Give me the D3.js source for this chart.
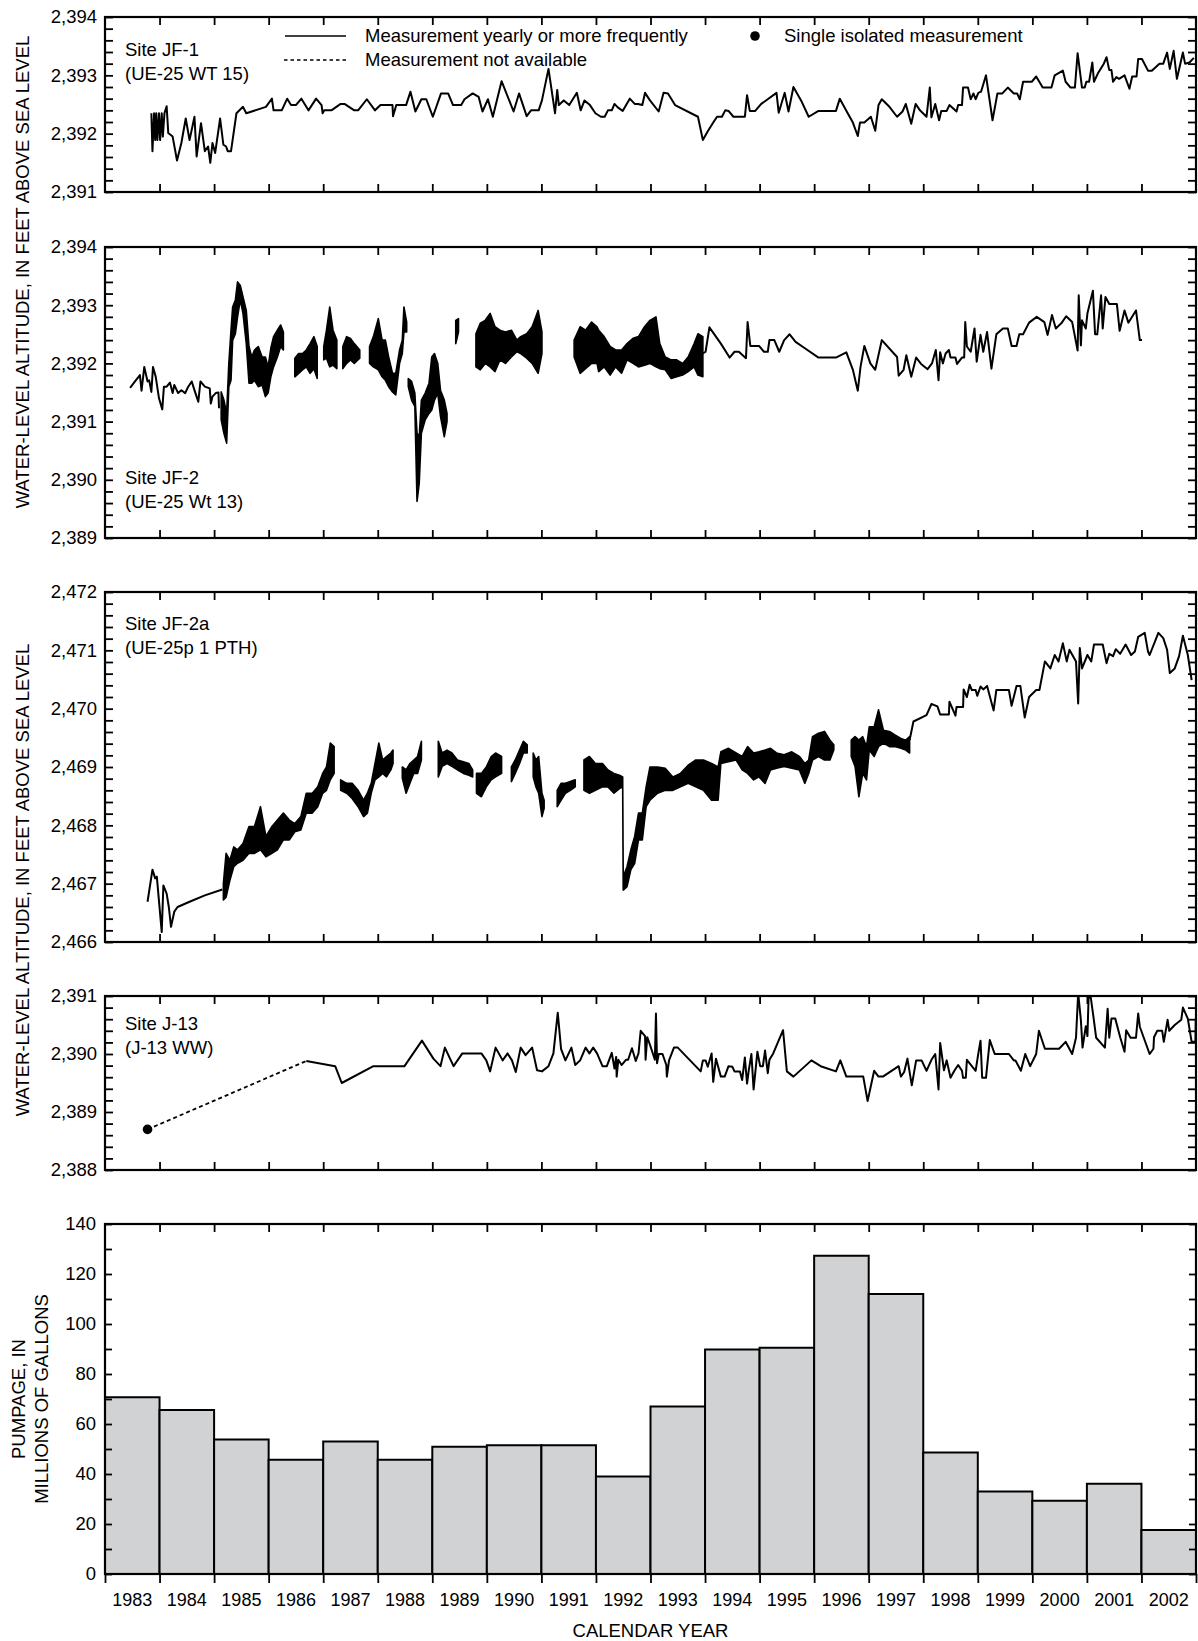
<!DOCTYPE html>
<html><head><meta charset="utf-8">
<script src="https://cdn.jsdelivr.net/npm/d3@7"></script>
<style>
body{margin:0;background:#fff;}
svg{display:block;font-family:"Liberation Sans",Arial,Helvetica,sans-serif;}
</style></head><body>
<svg id="chart" width="1198" height="1641"></svg>
<script>
// ---------------- DATA ----------------
const yearLabels = [1983,1984,1985,1986,1987,1988,1989,1990,1991,1992,1993,1994,1995,1996,1997,1998,1999,2000,2001,2002];
const yearBoundaries = [1983,1984,1985,1986,1987,1988,1989,1990,1991,1992,1993,1994,1995,1996,1997,1998,1999,2000,2001,2002,2003];
const pumpage = [70.7,65.6,53.8,45.7,53.0,45.7,50.9,51.5,51.5,39.0,67.0,89.8,90.5,127.3,112.0,48.6,33.0,29.3,36.1,17.6];
const pumpageTicks = [0,20,40,60,80,100,120,140];

const jf1Ticks = [2391,2392,2393,2394];
const jf2Ticks = [2389,2390,2391,2392,2393,2394];
const jf2aTicks = [2466,2467,2468,2469,2470,2471,2472];
const j13Ticks = [2388,2389,2390,2391];

// Site JF-1 (UE-25 WT 15): [year, altitude]
const jf1 = [[1983.85,2392.35],[1983.87,2391.70],[1983.90,2392.35],[1983.92,2391.89],[1983.94,2392.35],[1983.96,2391.89],[1983.99,2392.35],[1984.01,2391.89],[1984.04,2392.35],[1984.06,2391.95],[1984.09,2392.35],[1984.13,2392.47],[1984.16,2392.01],[1984.24,2391.95],[1984.32,2391.54],[1984.40,2391.84],[1984.48,2392.26],[1984.55,2391.89],[1984.64,2392.29],[1984.68,2391.61],[1984.76,2392.18],[1984.83,2391.70],[1984.89,2391.78],[1984.93,2391.50],[1984.97,2391.84],[1985.02,2391.67],[1985.11,2392.26],[1985.17,2391.81],[1985.22,2391.78],[1985.25,2391.70],[1985.31,2391.70],[1985.41,2392.35],[1985.53,2392.46],[1985.59,2392.35],[1985.95,2392.46],[1986.06,2392.60],[1986.09,2392.40],[1986.24,2392.40],[1986.34,2392.60],[1986.41,2392.49],[1986.50,2392.49],[1986.60,2392.60],[1986.73,2392.40],[1986.87,2392.60],[1986.97,2392.49],[1986.99,2392.35],[1987.02,2392.40],[1987.15,2392.40],[1987.32,2392.51],[1987.39,2392.51],[1987.57,2392.40],[1987.64,2392.40],[1987.80,2392.59],[1987.95,2392.40],[1988.05,2392.49],[1988.27,2392.49],[1988.28,2392.30],[1988.34,2392.49],[1988.52,2392.49],[1988.60,2392.72],[1988.69,2392.38],[1988.80,2392.59],[1988.89,2392.59],[1989.01,2392.29],[1989.16,2392.69],[1989.29,2392.69],[1989.38,2392.49],[1989.53,2392.49],[1989.59,2392.59],[1989.74,2392.69],[1989.85,2392.63],[1989.92,2392.38],[1990.02,2392.59],[1990.11,2392.29],[1990.27,2392.90],[1990.41,2392.57],[1990.49,2392.38],[1990.59,2392.69],[1990.73,2392.30],[1990.81,2392.40],[1990.95,2392.40],[1991.01,2392.57],[1991.13,2393.11],[1991.25,2392.35],[1991.29,2392.75],[1991.32,2392.49],[1991.41,2392.57],[1991.51,2392.49],[1991.65,2392.70],[1991.72,2392.40],[1991.79,2392.57],[1991.89,2392.49],[1991.99,2392.35],[1992.09,2392.29],[1992.16,2392.29],[1992.22,2392.40],[1992.29,2392.40],[1992.34,2392.51],[1992.40,2392.45],[1992.49,2392.39],[1992.62,2392.60],[1992.71,2392.51],[1992.77,2392.51],[1992.85,2392.49],[1992.90,2392.70],[1992.99,2392.57],[1993.15,2392.38],[1993.24,2392.70],[1993.32,2392.69],[1993.38,2392.60],[1993.45,2392.49],[1993.87,2392.29],[1993.96,2391.89],[1994.05,2392.04],[1994.15,2392.19],[1994.22,2392.29],[1994.31,2392.29],[1994.37,2392.40],[1994.43,2392.39],[1994.52,2392.29],[1994.73,2392.29],[1994.77,2392.66],[1994.82,2392.39],[1994.92,2392.39],[1995.03,2392.51],[1995.31,2392.70],[1995.35,2392.36],[1995.46,2392.70],[1995.53,2392.38],[1995.62,2392.80],[1995.76,2392.57],[1995.90,2392.29],[1996.08,2392.39],[1996.40,2392.39],[1996.47,2392.60],[1996.61,2392.36],[1996.71,2392.19],[1996.80,2391.96],[1996.84,2392.19],[1996.92,2392.19],[1997.04,2392.29],[1997.12,2392.05],[1997.18,2392.49],[1997.24,2392.59],[1997.38,2392.46],[1997.52,2392.29],[1997.62,2392.38],[1997.68,2392.51],[1997.78,2392.17],[1997.86,2392.51],[1997.94,2392.40],[1998.06,2392.29],[1998.12,2392.79],[1998.15,2392.28],[1998.22,2392.51],[1998.29,2392.23],[1998.33,2392.39],[1998.43,2392.39],[1998.48,2392.49],[1998.61,2392.38],[1998.64,2392.49],[1998.71,2392.49],[1998.73,2392.79],[1998.82,2392.79],[1998.87,2392.59],[1998.92,2392.69],[1998.96,2392.59],[1999.01,2392.70],[1999.06,2392.72],[1999.15,2393.00],[1999.27,2392.23],[1999.36,2392.69],[1999.45,2392.69],[1999.55,2392.79],[1999.66,2392.69],[1999.72,2392.69],[1999.77,2392.59],[1999.83,2392.89],[1999.99,2392.89],[2000.07,2392.98],[2000.19,2392.79],[2000.35,2392.79],[2000.41,2393.00],[2000.56,2393.08],[2000.61,2392.89],[2000.70,2392.79],[2000.78,2392.79],[2000.83,2393.38],[2000.91,2392.79],[2000.96,2392.79],[2000.99,2392.89],[2001.04,2392.89],[2001.10,2393.22],[2001.13,2392.89],[2001.20,2393.03],[2001.31,2393.20],[2001.36,2393.31],[2001.41,2393.09],[2001.45,2393.09],[2001.48,2392.89],[2001.54,2392.97],[2001.59,2392.94],[2001.69,2393.00],[2001.78,2392.77],[2001.83,2392.98],[2001.91,2392.98],[2001.94,2393.28],[2002.01,2393.28],[2002.12,2393.08],[2002.19,2393.08],[2002.33,2393.20],[2002.40,2393.20],[2002.47,2393.39],[2002.52,2393.11],[2002.59,2393.42],[2002.65,2392.94],[2002.76,2393.39],[2002.80,2393.20],[2002.88,2393.22],[2002.96,2393.30]];

// Site JF-2 (UE-25 Wt 13): sparse parts [year, altitude]
const jf2Early = [[1983.46,2391.58],[1983.55,2391.69],[1983.64,2391.80],[1983.67,2391.53],[1983.72,2391.94],[1983.78,2391.69],[1983.81,2391.71],[1983.85,2391.51],[1983.88,2391.94],[1983.93,2391.77],[1983.99,2391.40],[1984.05,2391.21],[1984.08,2391.60],[1984.13,2391.60],[1984.19,2391.67],[1984.24,2391.49],[1984.27,2391.63],[1984.34,2391.49],[1984.40,2391.54],[1984.47,2391.49],[1984.52,2391.59],[1984.59,2391.69],[1984.64,2391.54],[1984.71,2391.34],[1984.75,2391.69],[1984.83,2391.60],[1984.92,2391.57],[1984.94,2391.31],[1984.97,2391.43],[1985.03,2391.49],[1985.08,2391.50],[1985.09,2391.23]];
const jf2Late = [[1993.96,2392.17],[1994.01,2392.20],[1994.08,2392.62],[1994.29,2392.34],[1994.45,2392.10],[1994.54,2392.20],[1994.62,2392.20],[1994.75,2392.09],[1994.78,2392.71],[1994.83,2392.30],[1994.99,2392.30],[1995.08,2392.20],[1995.15,2392.20],[1995.18,2392.40],[1995.27,2392.40],[1995.36,2392.20],[1995.45,2392.40],[1995.55,2392.50],[1995.66,2392.37],[1995.83,2392.26],[1996.08,2392.10],[1996.40,2392.10],[1996.59,2392.19],[1996.71,2391.89],[1996.80,2391.53],[1996.85,2391.94],[1996.92,2392.30],[1997.03,2392.00],[1997.12,2391.89],[1997.24,2392.40],[1997.52,2392.11],[1997.55,2391.79],[1997.64,2391.89],[1997.69,2392.14],[1997.78,2391.77],[1997.87,2392.10],[1997.96,2391.99],[1998.08,2391.90],[1998.16,2392.00],[1998.23,2392.23],[1998.28,2391.71],[1998.31,2392.19],[1998.36,2392.00],[1998.41,2392.17],[1998.47,2392.23],[1998.50,2392.10],[1998.59,2392.10],[1998.62,2391.99],[1998.71,2392.10],[1998.75,2392.10],[1998.77,2392.71],[1998.80,2392.29],[1998.87,2392.20],[1998.94,2392.60],[1998.98,2392.03],[1999.05,2392.49],[1999.10,2392.20],[1999.17,2392.54],[1999.25,2391.91],[1999.34,2392.50],[1999.46,2392.60],[1999.55,2392.60],[1999.62,2392.30],[1999.71,2392.30],[1999.76,2392.50],[1999.83,2392.50],[1999.94,2392.70],[2000.08,2392.80],[2000.22,2392.71],[2000.28,2392.49],[2000.36,2392.83],[2000.43,2392.60],[2000.54,2392.70],[2000.62,2392.81],[2000.73,2392.71],[2000.83,2392.22],[2000.85,2393.17],[2000.89,2392.31],[2000.91,2392.74],[2000.98,2392.60],[2001.01,2392.86],[2001.11,2393.25],[2001.15,2392.50],[2001.19,2392.50],[2001.26,2393.17],[2001.29,2392.60],[2001.34,2393.14],[2001.41,2393.02],[2001.55,2393.02],[2001.60,2392.56],[2001.69,2392.91],[2001.76,2392.70],[2001.90,2392.91],[2001.97,2392.40],[2002.01,2392.40]];
// Site JF-2 frequent-record stretches: [year, low, high]
const jf2Dense = [
 [[1985.13,2391.03,2391.51],[1985.18,2390.80,2391.37],[1985.23,2390.63,2391.14],[1985.27,2391.60,2392.00],[1985.31,2391.71,2392.57],[1985.34,2392.40,2392.97],[1985.39,2392.51,2393.09],[1985.43,2392.80,2393.40],[1985.48,2393.09,2393.34],[1985.53,2392.86,2393.14],[1985.59,2392.34,2392.91],[1985.64,2391.66,2392.29],[1985.69,2391.66,2392.11],[1985.74,2391.71,2392.23],[1985.81,2391.60,2392.29],[1985.88,2391.63,2392.11],[1985.94,2391.43,2392.11],[1985.99,2391.49,2391.94],[1986.04,2391.77,2392.26],[1986.09,2391.94,2392.46],[1986.16,2392.11,2392.57],[1986.22,2392.29,2392.66],[1986.27,2392.23,2392.54]],
 [[1986.48,2391.77,2392.09],[1986.55,2391.83,2392.17],[1986.62,2391.89,2392.17],[1986.69,2391.94,2392.23],[1986.76,2391.83,2392.34],[1986.83,2391.91,2392.46],[1986.89,2391.74,2392.29]],
 [[1987.01,2392.06,2392.29],[1987.06,2392.09,2392.57],[1987.12,2391.94,2392.97],[1987.18,2391.97,2392.57],[1987.25,2391.91,2392.40]],
 [[1987.36,2391.91,2392.29],[1987.43,2392.00,2392.46],[1987.50,2392.06,2392.43],[1987.57,2392.00,2392.34],[1987.67,2392.09,2392.23]],
 [[1987.85,2392.00,2392.29],[1987.92,2391.94,2392.46],[1988.01,2391.89,2392.77],[1988.08,2391.77,2392.40],[1988.14,2391.71,2392.40],[1988.20,2391.60,2392.11],[1988.27,2391.51,2391.83],[1988.33,2391.46,2391.83],[1988.40,2392.00,2392.23],[1988.45,2392.17,2392.40],[1988.48,2392.54,2392.97],[1988.53,2392.54,2392.71]],
 [[1988.56,2391.60,2391.74],[1988.62,2391.37,2391.69],[1988.68,2391.26,2391.49],[1988.72,2389.63,2390.80],[1988.76,2389.94,2390.74],[1988.80,2390.80,2391.37],[1988.87,2391.03,2391.49],[1988.94,2391.14,2391.66],[1988.99,2391.20,2392.11],[1989.04,2391.37,2392.17],[1989.10,2391.49,2392.00],[1989.15,2391.09,2391.54],[1989.22,2390.74,2391.37],[1989.27,2391.00,2391.14]],
 [[1989.43,2392.34,2392.74],[1989.48,2392.54,2392.77]],
 [[1989.80,2391.94,2392.51],[1989.88,2391.89,2392.69],[1989.97,2392.00,2392.74],[1990.06,2391.94,2392.86],[1990.15,2391.86,2392.63],[1990.24,2392.06,2392.57],[1990.34,2392.00,2392.54],[1990.45,2392.11,2392.57],[1990.55,2392.20,2392.40],[1990.62,2392.17,2392.46],[1990.73,2392.09,2392.51],[1990.83,2392.00,2392.63],[1990.94,2391.83,2392.91],[1991.01,2392.17,2392.54]],
 [[1991.60,2392.11,2392.40],[1991.71,2391.83,2392.63],[1991.81,2391.91,2392.57],[1991.92,2392.00,2392.71],[1992.02,2392.00,2392.63],[1992.05,2391.86,2392.57],[1992.15,2391.94,2392.46],[1992.26,2391.80,2392.29],[1992.36,2391.94,2392.23],[1992.47,2391.83,2392.23],[1992.57,2392.06,2392.34],[1992.68,2392.00,2392.43],[1992.78,2391.94,2392.46],[1992.89,2391.97,2392.63],[1992.99,2392.00,2392.74],[1993.10,2391.94,2392.80],[1993.17,2391.91,2392.34],[1993.27,2391.89,2392.11],[1993.38,2391.74,2392.06],[1993.48,2391.77,2392.06],[1993.59,2391.80,2392.00],[1993.69,2391.86,2392.11],[1993.80,2391.94,2392.34],[1993.87,2391.80,2392.51],[1993.96,2391.77,2392.46]]
];

// Site JF-2a (UE-25p 1 PTH)
const jf2aEarly = [[1983.78,2466.69],[1983.87,2467.24],[1983.92,2467.09],[1983.95,2467.12],[1984.04,2466.17],[1984.07,2466.97],[1984.13,2466.83],[1984.17,2466.60],[1984.21,2466.26],[1984.27,2466.52],[1984.33,2466.60],[1984.55,2466.69],[1984.83,2466.80],[1985.15,2466.90]];
const jf2aLate = [[1997.75,2469.46],[1997.82,2469.78],[1998.06,2469.89],[1998.15,2470.08],[1998.26,2470.04],[1998.31,2469.90],[1998.47,2469.90],[1998.48,2470.12],[1998.59,2469.88],[1998.61,2470.03],[1998.73,2470.03],[1998.74,2470.33],[1998.80,2470.20],[1998.85,2470.41],[1998.89,2470.32],[1998.96,2470.32],[1998.99,2470.22],[1999.05,2470.38],[1999.10,2470.33],[1999.17,2470.39],[1999.29,2469.97],[1999.34,2470.32],[1999.57,2470.32],[1999.62,2470.05],[1999.71,2470.39],[1999.78,2470.39],[1999.86,2469.85],[1999.94,2470.20],[2000.07,2470.32],[2000.13,2470.32],[2000.23,2470.81],[2000.33,2470.69],[2000.41,2470.92],[2000.48,2470.81],[2000.56,2471.12],[2000.63,2470.81],[2000.68,2471.01],[2000.80,2470.81],[2000.84,2470.09],[2000.87,2471.04],[2000.91,2470.69],[2001.01,2470.92],[2001.08,2470.81],[2001.13,2471.10],[2001.20,2471.10],[2001.29,2471.10],[2001.36,2470.78],[2001.41,2470.94],[2001.48,2470.90],[2001.53,2471.02],[2001.61,2470.94],[2001.71,2471.10],[2001.81,2470.92],[2001.88,2470.98],[2001.94,2471.23],[2002.06,2471.30],[2002.12,2470.98],[2002.15,2470.92],[2002.31,2471.30],[2002.40,2471.21],[2002.47,2471.01],[2002.52,2470.61],[2002.61,2470.69],[2002.69,2470.90],[2002.76,2471.25],[2002.85,2470.92],[2002.92,2470.49]];
const jf2aDense = [
 [[1985.17,2466.72,2467.00],[1985.22,2466.77,2467.52],[1985.29,2467.06,2467.40],[1985.36,2467.29,2467.63],[1985.43,2467.35,2467.58],[1985.53,2467.40,2467.69],[1985.64,2467.52,2467.98],[1985.74,2467.52,2467.98],[1985.85,2467.58,2468.32],[1985.95,2467.46,2467.81],[1986.06,2467.52,2467.98],[1986.16,2467.58,2468.09],[1986.27,2467.75,2468.21],[1986.38,2467.75,2468.09],[1986.48,2467.89,2468.03],[1986.59,2467.92,2468.15],[1986.69,2468.21,2468.55],[1986.80,2468.21,2468.55],[1986.90,2468.32,2468.66],[1986.99,2468.55,2468.89],[1987.06,2468.60,2469.00],[1987.13,2468.78,2469.41],[1987.20,2468.89,2469.35]],
 [[1987.32,2468.60,2468.78],[1987.43,2468.55,2468.72],[1987.53,2468.46,2468.72],[1987.64,2468.32,2468.60],[1987.74,2468.15,2468.43],[1987.81,2468.21,2468.55],[1987.88,2468.55,2468.72],[1987.95,2468.78,2469.06],[1988.02,2468.83,2469.41],[1988.09,2468.89,2469.12],[1988.16,2468.83,2469.18],[1988.24,2468.95,2469.24],[1988.28,2469.06,2469.29]],
 [[1988.45,2468.81,2469.00],[1988.52,2468.55,2468.95],[1988.59,2468.72,2469.06],[1988.66,2468.89,2469.12],[1988.73,2468.89,2469.18],[1988.80,2469.12,2469.44]],
 [[1989.11,2468.83,2469.44],[1989.18,2469.01,2469.24],[1989.27,2469.06,2469.29],[1989.36,2469.01,2469.24],[1989.46,2468.95,2469.12],[1989.57,2468.89,2469.09],[1989.67,2468.86,2469.06],[1989.74,2468.83,2468.95]],
 [[1989.81,2468.55,2468.89],[1989.90,2468.49,2468.89],[1989.99,2468.66,2469.00],[1990.08,2468.78,2469.18],[1990.16,2468.83,2469.24],[1990.27,2468.89,2469.18]],
 [[1990.45,2468.75,2469.00],[1990.52,2468.89,2469.12],[1990.60,2469.06,2469.29],[1990.67,2469.24,2469.44],[1990.74,2469.24,2469.38]],
 [[1990.85,2468.83,2469.24],[1990.90,2468.66,2469.12],[1990.95,2468.55,2469.18],[1991.01,2468.15,2468.55],[1991.05,2468.29,2468.43]],
 [[1991.29,2468.32,2468.60],[1991.36,2468.43,2468.72],[1991.44,2468.55,2468.72],[1991.53,2468.60,2468.75],[1991.62,2468.66,2468.78]],
 [[1991.78,2468.60,2469.12],[1991.88,2468.55,2469.18],[1991.99,2468.60,2469.06],[1992.12,2468.66,2469.06],[1992.22,2468.66,2468.95],[1992.33,2468.55,2468.89],[1992.43,2468.63,2468.86],[1992.49,2468.66,2468.83],[1992.50,2466.89,2467.12],[1992.57,2466.95,2467.29],[1992.64,2467.24,2467.58],[1992.71,2467.35,2467.81],[1992.78,2467.75,2468.21],[1992.85,2467.75,2468.21],[1992.92,2468.32,2468.66],[1992.99,2468.43,2469.00],[1993.13,2468.55,2469.00],[1993.27,2468.60,2468.98],[1993.41,2468.60,2468.83],[1993.55,2468.66,2468.89],[1993.69,2468.72,2469.03],[1993.83,2468.66,2469.12],[1993.97,2468.60,2469.12],[1994.12,2468.43,2469.06],[1994.24,2468.43,2469.00],[1994.29,2469.06,2469.26],[1994.43,2469.09,2469.32],[1994.57,2469.12,2469.24],[1994.68,2468.95,2469.18],[1994.78,2468.89,2469.35],[1994.89,2468.78,2469.24],[1994.99,2468.83,2469.26],[1995.10,2468.72,2469.29],[1995.20,2468.95,2469.32],[1995.31,2468.98,2469.24],[1995.45,2469.01,2469.21],[1995.59,2468.98,2469.26],[1995.73,2468.95,2469.18],[1995.83,2468.72,2469.06],[1995.90,2468.89,2469.12],[1995.97,2469.12,2469.52],[1996.08,2469.18,2469.58],[1996.19,2469.12,2469.61],[1996.29,2469.12,2469.46],[1996.36,2469.29,2469.38]],
 [[1996.68,2469.18,2469.46],[1996.75,2469.01,2469.52],[1996.82,2468.49,2469.46],[1996.89,2468.89,2469.52],[1996.96,2468.78,2469.35],[1997.01,2469.29,2469.69],[1997.10,2469.18,2469.69],[1997.18,2469.35,2469.98],[1997.27,2469.41,2469.63],[1997.38,2469.35,2469.61],[1997.48,2469.35,2469.55],[1997.59,2469.32,2469.49],[1997.68,2469.29,2469.46],[1997.75,2469.24,2469.52]]
];

// Site J-13 (J-13 WW)
const j13Single = [1983.78, 2388.70];
const j13 = [[1986.69,2389.88],[1987.22,2389.79],[1987.34,2389.50],[1987.92,2389.79],[1988.49,2389.79],[1988.81,2390.23],[1989.02,2389.92],[1989.15,2389.79],[1989.23,2390.11],[1989.39,2389.79],[1989.55,2390.01],[1989.90,2390.01],[1989.99,2389.89],[1990.06,2389.70],[1990.16,2390.11],[1990.29,2389.89],[1990.38,2390.01],[1990.46,2389.89],[1990.53,2389.69],[1990.62,2390.11],[1990.71,2389.98],[1990.83,2390.11],[1990.92,2389.72],[1991.01,2389.70],[1991.13,2389.79],[1991.22,2390.01],[1991.30,2390.71],[1991.36,2390.09],[1991.44,2389.89],[1991.55,2390.11],[1991.62,2389.81],[1991.71,2389.89],[1991.81,2390.11],[1991.88,2390.01],[1991.95,2390.11],[1992.02,2390.01],[1992.12,2389.79],[1992.20,2389.79],[1992.29,2390.02],[1992.34,2389.75],[1992.37,2389.95],[1992.38,2389.61],[1992.41,2389.90],[1992.47,2389.81],[1992.55,2389.90],[1992.59,2389.90],[1992.66,2390.10],[1992.73,2389.88],[1992.78,2390.01],[1992.82,2390.40],[1992.90,2390.31],[1992.91,2389.90],[1992.94,2390.29],[1992.99,2390.16],[1993.08,2389.90],[1993.10,2390.70],[1993.12,2389.84],[1993.15,2390.00],[1993.22,2390.00],[1993.29,2389.81],[1993.30,2389.61],[1993.34,2389.89],[1993.43,2390.11],[1993.50,2390.11],[1993.92,2389.70],[1993.96,2389.89],[1994.01,2389.89],[1994.05,2389.78],[1994.12,2390.01],[1994.15,2389.52],[1994.20,2389.92],[1994.29,2389.61],[1994.36,2389.61],[1994.43,2389.79],[1994.50,2389.78],[1994.54,2389.70],[1994.64,2389.70],[1994.68,2389.55],[1994.73,2389.94],[1994.77,2389.49],[1994.80,2389.71],[1994.85,2390.00],[1994.89,2389.39],[1994.96,2390.04],[1995.01,2389.79],[1995.06,2389.79],[1995.10,2390.06],[1995.15,2389.67],[1995.18,2389.90],[1995.25,2390.01],[1995.43,2390.41],[1995.50,2389.70],[1995.62,2389.61],[1995.95,2389.89],[1996.12,2389.79],[1996.40,2389.70],[1996.48,2389.89],[1996.59,2389.61],[1996.90,2389.61],[1996.98,2389.19],[1997.10,2389.71],[1997.18,2389.61],[1997.26,2389.61],[1997.55,2389.79],[1997.59,2389.61],[1997.65,2389.69],[1997.71,2389.92],[1997.79,2389.46],[1997.87,2389.89],[1997.97,2389.89],[1998.06,2389.71],[1998.15,2389.90],[1998.22,2390.00],[1998.28,2389.39],[1998.31,2390.19],[1998.38,2389.72],[1998.43,2389.89],[1998.50,2389.59],[1998.57,2389.71],[1998.64,2389.81],[1998.71,2389.71],[1998.73,2389.59],[1998.78,2389.59],[1998.80,2389.90],[1998.96,2389.71],[1999.01,2390.01],[1999.05,2390.23],[1999.08,2389.59],[1999.15,2389.59],[1999.22,2390.24],[1999.31,2390.00],[1999.57,2390.00],[1999.66,2389.89],[1999.69,2389.89],[1999.79,2389.71],[1999.87,2390.00],[1999.96,2389.79],[2000.07,2390.00],[2000.12,2390.40],[2000.23,2390.09],[2000.49,2390.09],[2000.61,2390.21],[2000.73,2390.00],[2000.80,2390.28],[2000.84,2391.05],[2000.89,2390.58],[2000.92,2390.11],[2000.98,2390.48],[2001.01,2390.31],[2001.03,2390.95],[2001.06,2391.05],[2001.12,2390.64],[2001.17,2390.28],[2001.33,2390.11],[2001.38,2390.78],[2001.41,2390.28],[2001.45,2390.61],[2001.52,2390.61],[2001.61,2390.29],[2001.69,2390.04],[2001.72,2390.41],[2001.80,2390.28],[2001.90,2390.28],[2001.94,2390.70],[2001.97,2390.47],[2002.15,2390.00],[2002.22,2390.09],[2002.23,2390.29],[2002.29,2390.40],[2002.38,2390.40],[2002.41,2390.21],[2002.48,2390.59],[2002.51,2390.40],[2002.61,2390.50],[2002.73,2390.59],[2002.76,2390.80],[2002.85,2390.61],[2002.92,2390.21],[2002.99,2390.21],[2002.995,2390.61]];

// ---------------- DRAWING ----------------
const svg = d3.select('#chart');
const L = 105, R = 1196;
const FONT = 18.5;
const x = d3.scaleLinear().domain([yearBoundaries[0], yearBoundaries[yearBoundaries.length-1]]).range([L, R]);
const fmt = d3.format(",.0f");
const innerYears = yearBoundaries.slice(1, -1);

function styleAxis(g){
  g.select('.domain').remove();
  g.attr('font-size', FONT).attr('font-family', null);
  g.selectAll('line').attr('stroke', '#000').attr('stroke-width', 1.8);
  g.selectAll('text').attr('fill', '#000');
}

function drawPanel(cfg){
  const y = d3.scaleLinear().domain([cfg.ticks[0], cfg.ticks[cfg.ticks.length-1]]).range([cfg.bottom, cfg.top]);
  const g = svg.append('g');
  const cid = 'clip-' + cfg.key;
  svg.append('clipPath').attr('id', cid).append('rect')
    .attr('x', L).attr('y', cfg.top).attr('width', R - L).attr('height', cfg.bottom - cfg.top);
  const plot = g.append('g').attr('clip-path', `url(#${cid})`);
  const area = d3.area().x(d => x(d[0])).y0(d => y(d[1])).y1(d => y(d[2]));
  const line = d3.line().x(d => x(d[0])).y(d => y(d[1]));
  (cfg.dense || []).forEach(seg => {
    plot.append('path').datum(seg).attr('d', area)
      .attr('fill', '#000').attr('stroke', '#000').attr('stroke-width', 1.6).attr('stroke-linejoin', 'round');
  });
  (cfg.lines || []).forEach(seg => {
    plot.append('path').datum(seg).attr('d', line)
      .attr('fill', 'none').attr('stroke', '#000').attr('stroke-width', 2).attr('stroke-linejoin', 'round');
  });
  if (cfg.single) {
    plot.append('path').datum([cfg.single, cfg.lines[0][0]]).attr('d', line)
      .attr('fill', 'none').attr('stroke', '#000').attr('stroke-width', 1.8).attr('stroke-dasharray', '4,3');
    plot.append('circle').attr('cx', x(cfg.single[0])).attr('cy', y(cfg.single[1])).attr('r', 4.8).attr('fill', '#000');
  }
  const lo = cfg.ticks[0], hi = cfg.ticks[cfg.ticks.length-1];
  const all = d3.range(Math.round((hi - lo) / 0.2) + 1).map(i => lo + i * 0.2);
  const isMajor = v => Math.abs(v - Math.round(v)) < 1e-6;
  g.append('g').attr('transform', `translate(${L},0)`)
    .call(d3.axisLeft(y).tickValues(all).tickSize(-8).tickSizeOuter(0).tickPadding(8)
      .tickFormat(v => isMajor(v) ? fmt(Math.round(v)) : ''))
    .call(styleAxis);
  g.append('g').attr('transform', `translate(${R},0)`)
    .call(d3.axisRight(y).tickValues(all).tickSize(-8).tickSizeOuter(0).tickFormat(''))
    .call(styleAxis);
  g.append('g').attr('transform', `translate(0,${cfg.top})`)
    .call(d3.axisTop(x).tickValues(innerYears).tickSize(-8).tickSizeOuter(0).tickFormat(''))
    .call(styleAxis);
  g.append('g').attr('transform', `translate(0,${cfg.bottom})`)
    .call(d3.axisBottom(x).tickValues(innerYears).tickSize(-8).tickSizeOuter(0).tickFormat(''))
    .call(styleAxis);
  g.append('rect').attr('x', L).attr('y', cfg.top).attr('width', R - L).attr('height', cfg.bottom - cfg.top)
    .attr('fill', 'none').attr('stroke', '#000').attr('stroke-width', 2.2);
  cfg.labels.forEach((t, i) => {
    g.append('text').attr('x', 125).attr('y', cfg.labelY + i * 24).attr('dy', '0.35em')
      .attr('font-size', FONT).text(t);
  });
}

drawPanel({key:'jf1', top:17, bottom:192, ticks:jf1Ticks, lines:[jf1], labels:['Site JF-1','(UE-25 WT 15)'], labelY:50});
drawPanel({key:'jf2', top:247, bottom:538, ticks:jf2Ticks, lines:[jf2Early, jf2Late], dense:jf2Dense, labels:['Site JF-2','(UE-25 Wt 13)'], labelY:478});
drawPanel({key:'jf2a', top:592, bottom:942, ticks:jf2aTicks, lines:[jf2aEarly, jf2aLate], dense:jf2aDense, labels:['Site JF-2a','(UE-25p 1 PTH)'], labelY:624});
drawPanel({key:'j13', top:996, bottom:1170, ticks:j13Ticks, lines:[j13], single:j13Single, labels:['Site J-13','(J-13 WW)'], labelY:1024});

// ----- Legend -----
const leg = svg.append('g').attr('font-size', FONT);
leg.append('line').attr('x1', 285).attr('x2', 346).attr('y1', 36).attr('y2', 36).attr('stroke', '#000').attr('stroke-width', 1.6);
leg.append('text').attr('x', 365).attr('y', 36).attr('dy', '0.35em').text('Measurement yearly or more frequently');
leg.append('line').attr('x1', 284).attr('x2', 346).attr('y1', 60).attr('y2', 60).attr('stroke', '#000').attr('stroke-width', 1.6).attr('stroke-dasharray', '3.5,3');
leg.append('text').attr('x', 365).attr('y', 60).attr('dy', '0.35em').text('Measurement not available');
leg.append('circle').attr('cx', 755).attr('cy', 36).attr('r', 4.8).attr('fill', '#000');
leg.append('text').attr('x', 784).attr('y', 36).attr('dy', '0.35em').text('Single isolated measurement');

// ----- Y titles -----
[272, 880].forEach(cy => {
  svg.append('text').attr('transform', `translate(28.5,${cy}) rotate(-90)`).attr('text-anchor', 'middle')
    .attr('font-size', FONT).text('WATER-LEVEL ALTITUDE, IN FEET ABOVE SEA LEVEL');
});

// ----- Pumpage bar chart -----
const bTop = 1224, bBot = 1574;
const yb = d3.scaleLinear().domain([pumpageTicks[0], pumpageTicks[pumpageTicks.length-1]]).range([bBot, bTop]);
const band = d3.scaleBand().domain(yearLabels).range([L, R]).padding(0);
const bg = svg.append('g');
bg.selectAll('rect.bar').data(yearLabels).join('rect').attr('class', 'bar')
  .attr('x', d => band(d)).attr('width', band.bandwidth())
  .attr('y', (d, i) => yb(pumpage[i])).attr('height', (d, i) => yb(0) - yb(pumpage[i]))
  .attr('fill', '#d1d2d4').attr('stroke', '#000').attr('stroke-width', 2);
const bAll = d3.range(15).map(i => i * 10);
bg.append('g').attr('transform', `translate(${L},0)`)
  .call(d3.axisLeft(yb).tickValues(bAll).tickSize(-7).tickSizeOuter(0).tickPadding(9)
    .tickFormat(v => pumpageTicks.includes(v) ? fmt(v) : ''))
  .call(styleAxis);
bg.append('g').attr('transform', `translate(${R},0)`)
  .call(d3.axisRight(yb).tickValues(bAll).tickSize(-7).tickSizeOuter(0).tickFormat(''))
  .call(styleAxis);
bg.append('g').attr('transform', `translate(0,${bTop})`)
  .call(d3.axisTop(x).tickValues(innerYears).tickSize(-8).tickSizeOuter(0).tickFormat(''))
  .call(styleAxis);
bg.append('g').attr('transform', `translate(0,${bBot})`)
  .call(d3.axisBottom(x).tickValues(yearBoundaries).tickSize(9).tickSizeOuter(0).tickFormat(''))
  .call(styleAxis);
bg.append('g').attr('transform', `translate(0,${bBot})`)
  .call(d3.axisBottom(band).tickSize(0).tickPadding(19))
  .call(styleAxis).attr('font-size', 18);
bg.append('rect').attr('x', L).attr('y', bTop).attr('width', R - L).attr('height', bBot - bTop)
  .attr('fill', 'none').attr('stroke', '#000').attr('stroke-width', 2.2);

svg.append('text').attr('transform', 'translate(25,1399) rotate(-90)').attr('text-anchor', 'middle')
  .attr('font-size', FONT).text('PUMPAGE, IN');
svg.append('text').attr('transform', 'translate(47.5,1399) rotate(-90)').attr('text-anchor', 'middle')
  .attr('font-size', FONT).text('MILLIONS OF GALLONS');
svg.append('text').attr('x', (L + R) / 2).attr('y', 1637).attr('text-anchor', 'middle')
  .attr('font-size', FONT).text('CALENDAR YEAR');
</script>
</body></html>
